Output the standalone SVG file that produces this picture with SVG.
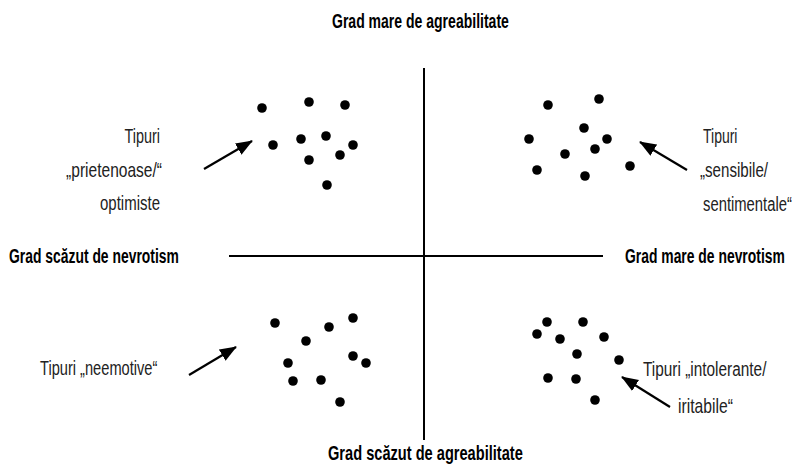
<svg xmlns="http://www.w3.org/2000/svg" width="795" height="469" viewBox="0 0 795 469">
<defs>
<marker id="ah" markerUnits="userSpaceOnUse" markerWidth="20" markerHeight="14" refX="16" refY="6.5" orient="auto">
<path d="M0,0 L17,6.5 L0,13 z" fill="#000"/>
</marker>
<style>
.t{font-family:"Liberation Sans",Arial,sans-serif;font-weight:bold;font-size:21px;fill:#000}
.l{font-family:"Liberation Sans",Arial,sans-serif;font-size:21px;fill:#222}
.e{text-anchor:end}
.ax{stroke:#000;stroke-width:2;fill:none}
.ar{stroke:#000;stroke-width:2.2;fill:none;marker-end:url(#ah)}
circle{fill:#000}
</style>
</defs>
<rect width="795" height="469" fill="#fff"/>
<g id="axes">
<line class="ax" x1="424" y1="68" x2="424" y2="440"/>
<line class="ax" x1="229" y1="256" x2="603" y2="256"/>
</g>
<g id="axis-labels">
<text class="t" transform="translate(332,28) scale(0.668,1)">Grad mare de agreabilitate</text>
<text class="t" transform="translate(328,460) scale(0.696,1)">Grad scăzut de agreabilitate</text>
<text class="t" transform="translate(9,263) scale(0.662,1)">Grad scăzut de nevrotism</text>
<text class="t" transform="translate(625,263) scale(0.662,1)">Grad mare de nevrotism</text>
</g>
<g id="q-top-left">
<circle cx="262" cy="108" r="4.8"/><circle cx="309" cy="102" r="4.8"/><circle cx="345" cy="105" r="4.8"/>
<circle cx="273" cy="145" r="4.8"/><circle cx="301" cy="139" r="4.8"/><circle cx="326" cy="136" r="4.8"/>
<circle cx="353" cy="145" r="4.8"/><circle cx="340" cy="155" r="4.8"/><circle cx="309" cy="160" r="4.8"/>
<circle cx="327" cy="185" r="4.8"/>
<text class="l e" transform="translate(160,143) scale(0.686,1)">Tipuri</text>
<text class="l e" transform="translate(162,177) scale(0.741,1)">„prietenoase/“</text>
<text class="l e" transform="translate(160,210) scale(0.714,1)">optimiste</text>
</g>
<g id="q-top-right">
<circle cx="548" cy="105" r="4.8"/><circle cx="599" cy="99" r="4.8"/><circle cx="584" cy="128" r="4.8"/>
<circle cx="529" cy="139" r="4.8"/><circle cx="607" cy="139" r="4.8"/><circle cx="565" cy="154" r="4.8"/>
<circle cx="595" cy="149" r="4.8"/><circle cx="537" cy="170" r="4.8"/><circle cx="585" cy="176" r="4.8"/>
<circle cx="630" cy="166" r="4.8"/>
<text class="l" transform="translate(703,143) scale(0.667,1)">Tipuri</text>
<text class="l" transform="translate(700,177) scale(0.72,1)">„sensibile/</text>
<text class="l" transform="translate(703,211) scale(0.706,1)">sentimentale“</text>
</g>
<g id="q-bottom-left">
<circle cx="275" cy="323" r="4.8"/><circle cx="329" cy="327" r="4.8"/><circle cx="353" cy="318" r="4.8"/>
<circle cx="306" cy="341" r="4.8"/><circle cx="288" cy="363" r="4.8"/><circle cx="353" cy="356" r="4.8"/>
<circle cx="366" cy="363" r="4.8"/><circle cx="293" cy="381" r="4.8"/><circle cx="321" cy="380" r="4.8"/>
<circle cx="340" cy="402" r="4.8"/>
<text class="l" transform="translate(40,375) scale(0.697,1)">Tipuri „neemotive“</text>
</g>
<g id="q-bottom-right">
<circle cx="547" cy="322" r="4.8"/><circle cx="583" cy="322" r="4.8"/><circle cx="537" cy="334" r="4.8"/>
<circle cx="560" cy="339" r="4.8"/><circle cx="604" cy="337" r="4.8"/><circle cx="577" cy="354" r="4.8"/>
<circle cx="619" cy="360" r="4.8"/><circle cx="548" cy="378" r="4.8"/><circle cx="576" cy="379" r="4.8"/>
<circle cx="595" cy="400" r="4.8"/>
<text class="l" transform="translate(643,376) scale(0.733,1)">Tipuri „intolerante/</text>
<text class="l" transform="translate(678,413) scale(0.748,1)">iritabile“</text>
</g>
<g id="connectors">
<line class="ar" x1="204" y1="169" x2="252" y2="141"/>
<line class="ar" x1="687" y1="170" x2="640" y2="142"/>
<line class="ar" x1="189" y1="375" x2="236" y2="347"/>
<line class="ar" x1="670" y1="407" x2="622" y2="377"/>
</g>
</svg>
